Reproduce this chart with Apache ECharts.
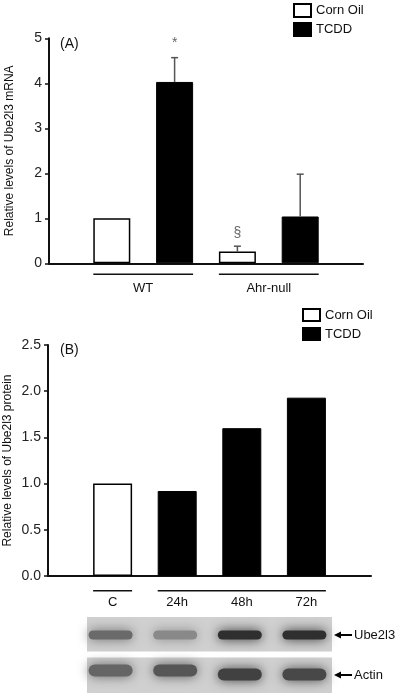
<!DOCTYPE html>
<html><head><meta charset="utf-8">
<script src="https://cdn.jsdelivr.net/npm/echarts@6/dist/echarts.min.js"></script>
<style>html,body{margin:0;padding:0;background:#fff}#c{width:400px;height:693px}</style>
</head><body><div id="c"></div>
<script>
// ---------- Panel A data ----------
const aCornOil = [[1, 1.00], [3, 0.26]];
const aTCDD = [[2, 4.03], [4, 1.04]];
const aErrors = [[2, 4.03, 4.57], [3, 0.26, 0.38], [4, 1.04, 1.98]];
const aMarkPos = [[2, 4.9], [3, 0.67]];
const aMarkText = ['*', '§'];
const aGroupRange = [[1, 2], [3, 4]];
const aGroupNames = ['WT', 'Ahr-null'];
// ---------- Panel B data ----------
const bCornOil = [[1, 1.00]];
const bTCDD = [[2, 0.92], [3, 1.60], [4, 1.93]];
const bLanes = ['C', '24h', '48h', '72h'];
const bGroupRange = [[1, 1], [2, 4]];
// blot band darkness per lane (0..1)
const blotUbe2l3 = [0.55, 0.38, 0.88, 0.88];
const blotActin = [0.58, 0.66, 0.78, 0.74];

const FONT = 'Liberation Sans, Arial, sans-serif';
const BW_A = 37, BW_B = 39;

const chart = echarts.init(document.getElementById('c'), null, {renderer: 'canvas'});

function groupRender(ranges, names, barW, lineOff, labelOff) {
  return function (params, api) {
    const r = ranges[params.dataIndex];
    const s = api.coord([r[0], 0]);
    const e = api.coord([r[1], 0]);
    const y = s[1] + lineOff;
    const ch = [{type: 'line', shape: {x1: s[0] - barW / 2, y1: y, x2: e[0] + barW / 2, y2: y},
      style: {stroke: '#111', lineWidth: 1.5}}];
    if (names && names[params.dataIndex]) {
      ch.push({type: 'text', x: (s[0] + e[0]) / 2, y: s[1] + labelOff,
        style: {text: names[params.dataIndex], fill: '#111', font: '13px ' + FONT, align: 'center', verticalAlign: 'middle'}});
    }
    return {type: 'group', children: ch};
  };
}

function errRender(params, api) {
  const lo = api.coord([api.value(0), api.value(1)]);
  const hi = api.coord([api.value(0), api.value(2)]);
  return {type: 'group', children: [
    {type: 'line', shape: {x1: lo[0], y1: lo[1], x2: hi[0], y2: hi[1]}, style: {stroke: '#555', lineWidth: 1.5}},
    {type: 'line', shape: {x1: hi[0] - 3.5, y1: hi[1], x2: hi[0] + 3.5, y2: hi[1]}, style: {stroke: '#555', lineWidth: 1.5}}
  ]};
}

function markRender(params, api) {
  const p = api.coord([api.value(0), api.value(1)]);
  return {type: 'text', x: p[0], y: p[1],
    style: {text: aMarkText[params.dataIndex], fill: '#666', font: '14px ' + FONT, align: 'center', verticalAlign: 'middle'}};
}

const cornStyle = {color: '#fff', borderColor: '#000', borderWidth: 1.5};
const tcddStyle = {color: '#000', borderColor: '#000', borderWidth: 1};

const yAxisCommon = {
  type: 'value',
  axisLine: {show: true, lineStyle: {color: '#111', width: 2}},
  axisTick: {show: true, inside: false, length: 4, lineStyle: {color: '#111', width: 1.5}},
  splitLine: {show: false},
  nameLocation: 'middle',
  nameRotate: 90,
  nameMoveOverlap: false,
  nameTextStyle: {fontFamily: FONT, fontSize: 12, color: '#111'},
  axisLabel: {fontFamily: FONT, fontSize: 14, color: '#222', margin: 7}
};

const legendCommon = {orient: 'vertical', itemWidth: 17, icon: 'rect', padding: 0, selectedMode: false,
  textStyle: {fontFamily: FONT, fontSize: 13, color: '#111'}, data: ['Corn Oil', 'TCDD']};

const option = {
  animation: false,
  textStyle: {fontFamily: FONT},
  grid: [
    {left: 49, right: 37, top: 38.3, height: 225, containLabel: false, outerBoundsMode: 'none'},
    {left: 48, right: 29, top: 345, height: 231, containLabel: false, outerBoundsMode: 'none'}
  ],
  legend: [
    Object.assign({}, legendCommon, {left: 293, top: 3, itemHeight: 13, itemGap: 4}),
    Object.assign({}, legendCommon, {left: 302, top: 308, itemHeight: 12, itemGap: 5})
  ],
  xAxis: [
    {gridIndex: 0, type: 'value', min: 0, max: 5, interval: 1,
      axisLine: {show: true, onZero: false, lineStyle: {color: '#111', width: 2}},
      axisTick: {show: false}, axisLabel: {show: false}, splitLine: {show: false}},
    {gridIndex: 1, type: 'value', min: 0, max: 5, interval: 1,
      axisLine: {show: true, onZero: false, lineStyle: {color: '#111', width: 2}},
      axisTick: {show: false}, splitLine: {show: false},
      axisLabel: {show: true, margin: 20, fontFamily: FONT, fontSize: 13, color: '#111',
        formatter: v => bLanes[v - 1] || ''}}
  ],
  yAxis: [
    Object.assign({}, yAxisCommon, {gridIndex: 0, min: 0, max: 5, interval: 1,
      name: 'Relative levels of Ube2l3 mRNA', nameGap: 33}),
    Object.assign({}, yAxisCommon, {gridIndex: 1, min: 0, max: 2.5, interval: 0.5,
      name: 'Relative levels of Ube2l3 protein', nameGap: 34,
      axisLabel: Object.assign({}, yAxisCommon.axisLabel, {formatter: v => v.toFixed(1)})})
  ],
  series: [
    {name: 'Corn Oil', type: 'bar', xAxisIndex: 0, yAxisIndex: 0, data: aCornOil, barWidth: BW_A, barGap: '-100%', itemStyle: cornStyle},
    {name: 'TCDD', type: 'bar', xAxisIndex: 0, yAxisIndex: 0, data: aTCDD, barWidth: BW_A, barGap: '-100%', itemStyle: tcddStyle},
    {type: 'custom', xAxisIndex: 0, yAxisIndex: 0, data: aErrors, renderItem: errRender, z: 5},
    {type: 'custom', xAxisIndex: 0, yAxisIndex: 0, data: aMarkPos, renderItem: markRender, z: 5},
    {type: 'custom', xAxisIndex: 0, yAxisIndex: 0, data: aGroupRange.map(r => [r[0], 0]), clip: false,
      renderItem: groupRender(aGroupRange, aGroupNames, BW_A, 11, 25)},
    {name: 'Corn Oil', type: 'bar', xAxisIndex: 1, yAxisIndex: 1, data: bCornOil, barWidth: BW_B, barGap: '-100%', itemStyle: cornStyle},
    {name: 'TCDD', type: 'bar', xAxisIndex: 1, yAxisIndex: 1, data: bTCDD, barWidth: BW_B, barGap: '-100%', itemStyle: tcddStyle},
    {type: 'custom', xAxisIndex: 1, yAxisIndex: 1, data: bGroupRange.map(r => [r[0], 0]), clip: false,
      renderItem: groupRender(bGroupRange, null, BW_B, 14.7, 0)}
  ],
  graphic: [
    {type: 'text', left: 60, top: 37, style: {text: '(A)', font: '14px ' + FONT, fill: '#111'}},
    {type: 'text', left: 60, top: 343, style: {text: '(B)', font: '14px ' + FONT, fill: '#111'}}
  ]
};
chart.setOption(option);

// Western blot strips, lanes aligned with panel B bars
function blot(yTop, h, dark, bandDy, bandH) {
  const els = [];
  els.push({type: 'rect', shape: {x: 87, y: yTop, width: 245, height: h}, style: {fill: '#d0d0d0'}, z: 1});
  dark.forEach((d, i) => {
    const cx = chart.convertToPixel({xAxisIndex: 1}, i + 1) - 2;
    const g = Math.round(205 - d * 180);
    const col = 'rgb(' + g + ',' + g + ',' + g + ')';
    els.push({type: 'rect', shape: {x: cx - 22, y: yTop + bandDy[i] - bandH / 2, width: 44, height: bandH, r: bandH / 2},
      style: {fill: col, shadowBlur: 12, shadowColor: col}, z: 2});
  });
  return els;
}
const arrow = (y, label) => [
  {type: 'line', shape: {x1: 339, y1: y, x2: 352, y2: y}, style: {stroke: '#000', lineWidth: 2}, z: 3},
  {type: 'polygon', shape: {points: [[334, y], [341, y - 3.5], [341, y + 3.5]]}, style: {fill: '#000'}, z: 3},
  {type: 'text', x: 354, y: y, style: {text: label, font: '13px ' + FONT, fill: '#111', verticalAlign: 'middle'}, z: 3}
];
const extra = [].concat(
  blot(617, 34.5, blotUbe2l3, [18, 18, 18, 18], 9),
  blot(657.5, 35.5, blotActin, [13, 13, 17, 17], 12),
  arrow(635, 'Ube2l3'),
  arrow(675, 'Actin')
);
chart.setOption({graphic: option.graphic.concat(extra)});
</script></body></html>
